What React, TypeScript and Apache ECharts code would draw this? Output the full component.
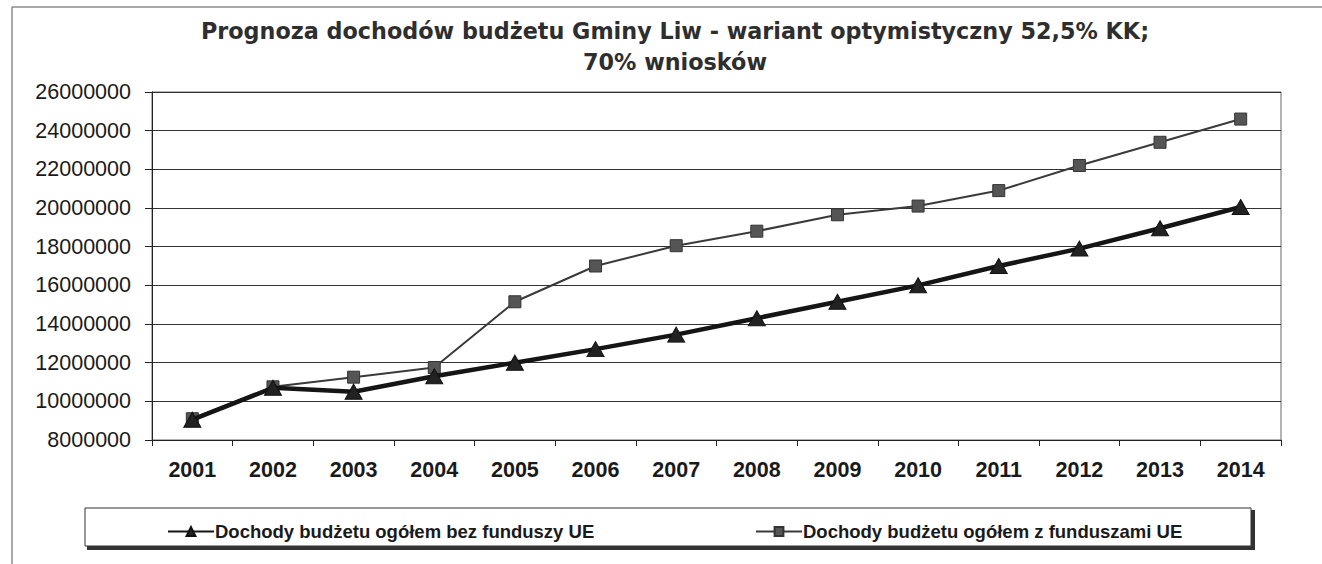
import React, { useEffect, useRef } from "react";
import * as echarts from "echarts";

const years = ["2001", "2002", "2003", "2004", "2005", "2006", "2007", "2008", "2009", "2010", "2011", "2012", "2013", "2014"];
const bezFunduszy = [9050000, 10700000, 10500000, 11300000, 12000000, 12700000, 13450000, 14300000, 15150000, 16000000, 17000000, 17900000, 18950000, 20050000];
const zFunduszami = [9100000, 10750000, 11250000, 11750000, 15150000, 17000000, 18050000, 18800000, 19650000, 20100000, 20900000, 22200000, 23400000, 24600000];
const seriesNames = ["Dochody budżetu ogółem bez funduszy UE", "Dochody budżetu ogółem z funduszami UE"];
const titleText = "Prognoza dochodów budżetu Gminy Liw - wariant optymistyczny 52,5% KK;\n70% wniosków";

export default function App() {
  const ref = useRef<HTMLDivElement>(null);
  useEffect(() => {
    if (!ref.current) return;
    const chart = echarts.init(ref.current, null, { renderer: "svg" });
    const font = "'Liberation Sans', Arial, sans-serif";
    const legendText = { fontFamily: font, fontSize: 18.5, fontWeight: "bold", color: "#1a1a1a", padding: [0, 0, 0, -4] };
    chart.setOption({
      animation: false,
      backgroundColor: "#ffffff",
      title: {
        text: titleText,
        left: 670,
        textAlign: "center",
        top: 10,
        textStyle: { fontFamily: "'DejaVu Sans', sans-serif", fontSize: 22.3, fontWeight: "bold", color: "#2e2e2e", lineHeight: 31.5 },
      },
      graphic: [
        { type: "rect", shape: { x: 12, y: 7, width: 1340, height: 600 }, style: { fill: "none", stroke: "#555", lineWidth: 1 }, silent: true },
        { type: "rect", shape: { x: 87, y: 510, width: 1168, height: 40 }, style: { fill: "#333" }, silent: true, z: 0 },
        { type: "rect", shape: { x: 85, y: 508, width: 1166, height: 38 }, style: { fill: "#fff", stroke: "#333", lineWidth: 1 }, silent: true, z: 1 },
      ],
      legend: [
        { data: [seriesNames[0]], left: 162, top: 517, itemWidth: 46, itemHeight: 11, itemGap: 0, z: 5, textStyle: legendText },
        { data: [seriesNames[1]], left: 750, top: 517, itemWidth: 46, itemHeight: 11, itemGap: 0, z: 5, textStyle: legendText },
      ],
      grid: { left: 152, right: 41, top: 92, bottom: 124, show: true, borderColor: "#666", borderWidth: 1, backgroundColor: "#fff" },
      xAxis: {
        type: "category",
        data: years,
        boundaryGap: true,
        axisLine: { lineStyle: { color: "#222", width: 1 } },
        axisTick: { show: true, length: 6, lineStyle: { color: "#222" } },
        axisLabel: { fontFamily: font, fontSize: 21.5, fontWeight: "bold", color: "#1a1a1a", margin: 19 },
      },
      yAxis: {
        type: "value",
        min: 8000000,
        max: 26000000,
        interval: 2000000,
        axisLine: { show: true, lineStyle: { color: "#222", width: 1 } },
        axisTick: { show: true, length: 7, lineStyle: { color: "#222" } },
        axisLabel: { fontFamily: font, fontSize: 21.5, color: "#1a1a1a", margin: 21, formatter: (v: number) => String(v) },
        splitLine: { show: true, lineStyle: { color: "#333", width: 1 } },
      },
      series: [
        {
          name: seriesNames[0],
          type: "line",
          data: bezFunduszy,
          symbol: "triangle",
          symbolSize: [17, 15],
          lineStyle: { color: "#151515", width: 4.5 },
          itemStyle: { color: "#222", borderColor: "#111", borderWidth: 1 },
          z: 3,
        },
        {
          name: seriesNames[1],
          type: "line",
          data: zFunduszami,
          symbol: "rect",
          symbolSize: 12,
          lineStyle: { color: "#3a3a3a", width: 2 },
          itemStyle: { color: "#555", borderColor: "#333", borderWidth: 1 },
          z: 2,
        },
      ],
    });
    return () => chart.dispose();
  }, []);
  return <div ref={ref} style={{ width: 1322, height: 564, position: "absolute", left: 0, top: 0 }} />;
}
